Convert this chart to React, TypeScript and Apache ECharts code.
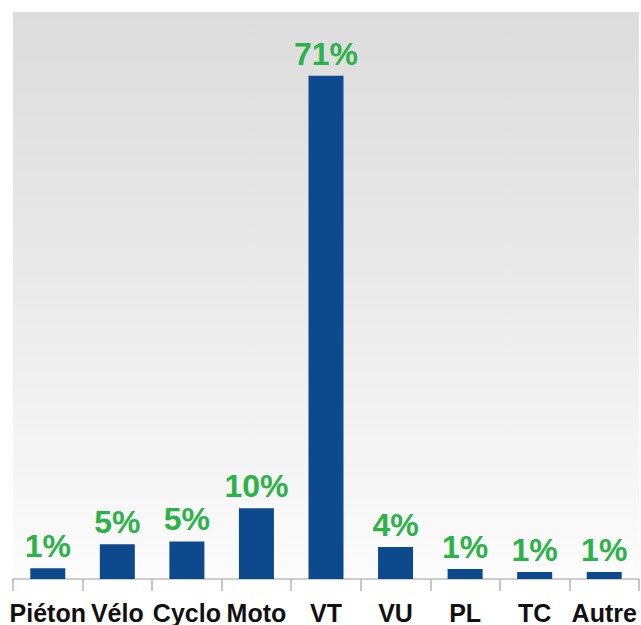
import React, { useEffect, useRef } from "react";
import * as echarts from "echarts";

const categories = ["Piéton", "Vélo", "Cyclo", "Moto", "VT", "VU", "PL", "TC", "Autre"];
const values = [1.5, 4.9, 5.3, 10, 71, 4.5, 1.4, 1.0, 1.0];
const valueLabels = ["1%", "5%", "5%", "10%", "71%", "4%", "1%", "1%", "1%"];

export default function App() {
  const ref = useRef<HTMLDivElement>(null);
  useEffect(() => {
    if (!ref.current) return;
    const chart = echarts.init(ref.current, null, { renderer: "svg" });
    chart.setOption({
      animation: false,
      backgroundColor: "#ffffff",
      grid: {
        left: 13,
        right: 2,
        top: 12,
        bottom: 45,
        show: true,
        borderWidth: 0,
        backgroundColor: {
          type: "linear",
          x: 0,
          y: 0,
          x2: 0,
          y2: 1,
          colorStops: [
            { offset: 0, color: "#dcdcdc" },
            { offset: 0.5, color: "#ebebeb" },
            { offset: 1, color: "#fcfcfc" },
          ],
        },
      },
      xAxis: {
        type: "category",
        data: categories,
        axisLine: { show: true, lineStyle: { color: "#bdbdbd", width: 1.5 } },
        axisTick: { show: true, length: 12, lineStyle: { color: "#b5b5b5", width: 1.5 } },
        axisLabel: {
          interval: 0,
          margin: 21,
          fontSize: 25,
          fontWeight: "bold",
          color: "#111111",
          fontFamily: "Liberation Sans, Arial, sans-serif",
        },
      },
      yAxis: {
        type: "value",
        min: 0,
        max: 80,
        show: false,
        splitLine: { show: false },
      },
      series: [
        {
          type: "bar",
          data: values,
          barWidth: 35,
          itemStyle: { color: "#0d4a8d" },
          label: {
            show: true,
            position: "top",
            distance: 6,
            formatter: (p: any) => valueLabels[p.dataIndex],
            fontSize: 32,
            fontWeight: "bold",
            color: "#2db24a",
            fontFamily: "Liberation Sans, Arial, sans-serif",
          },
        },
      ],
    });
    return () => chart.dispose();
  }, []);
  return (
    <div
      ref={ref}
      style={{ position: "fixed", left: 0, top: 0, width: 641, height: 625, background: "#fff" }}
    />
  );
}
